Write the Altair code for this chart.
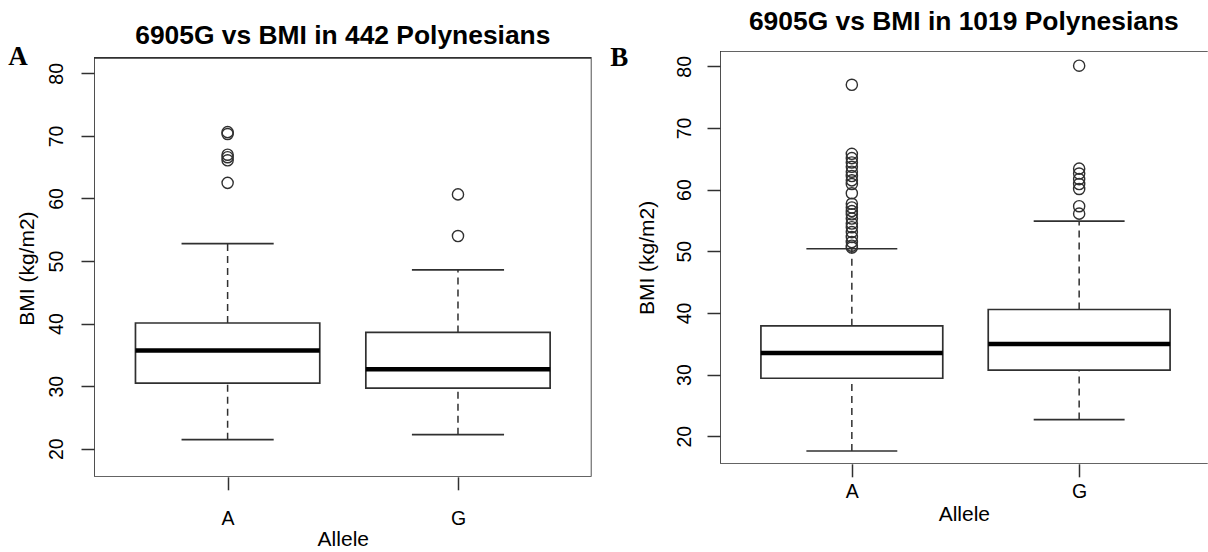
import altair as alt
import pandas as pd

# ---------------- data ----------------
alleles = ["A", "G"]
positions = [1, 2]
panel_labels = ["A", "B"]
titles = ["6905G vs BMI in 442 Polynesians", "6905G vs BMI in 1019 Polynesians"]
y_ticks = [20, 30, 40, 50, 60, 70, 80]
ylim = [18, 80]

# Panel A : 442 Polynesians
a_q1 = [30.5, 29.7]
a_med = [35.7, 32.7]
a_q3 = [40.1, 38.6]
a_lo = [21.45, 22.25]
a_hi = [52.8, 48.6]
a_out_A = [70.6, 70.3, 67.0, 66.6, 66.1, 62.5]
a_out_G = [60.65, 54.0]

# Panel B : 1019 Polynesians
b_q1 = [29.4, 30.7]
b_med = [33.5, 34.95]
b_q3 = [37.9, 40.55]
b_lo = [17.6, 22.7]
b_hi = [50.4, 54.9]
b_out_A = [77.0, 65.8, 65.1, 64.4, 63.7, 62.9, 62.2, 61.5, 60.9, 59.4,
           57.7, 57.1, 56.5, 56.0, 55.3, 54.5, 53.9, 53.1, 52.3, 51.5, 50.9, 50.6]
b_out_G = [80.1, 63.4, 62.6, 61.7, 60.9, 60.1, 57.3, 56.1]

FONT = "Liberation Sans"
LINE = "#303030"

# R style axis extension (4 %)
ypad = 0.04 * (ylim[1] - ylim[0])
y_frame = [ylim[0] - ypad, ylim[1] + ypad]
x_frame = [0.5 - 0.04 * 2, 2.5 + 0.04 * 2]


def panel(label, title, q1, med, q3, lo, hi, out_a, out_g, cfg):
    stats = pd.DataFrame({
        "allele": alleles, "pos": positions, "q1": q1, "med": med,
        "q3": q3, "lo": lo, "hi": hi,
    })
    outs = pd.DataFrame({
        "pos": [1] * len(out_a) + [2] * len(out_g),
        "bmi": out_a + out_g,
    })
    frame = pd.DataFrame({"x1": [x_frame[0]], "x2": [x_frame[1]],
                          "y1": [y_frame[0]], "y2": [y_frame[1]]})

    xs = alt.Scale(domain=cfg["xdom"], nice=False, zero=False)
    ys = alt.Scale(domain=cfg["ydom"], nice=False, zero=False)

    xaxis = alt.Axis(values=positions, labelExpr="datum.value == 1 ? 'A' : 'G'",
                     domain=False, grid=False, tickSize=13, tickColor=LINE, tickWidth=1.5,
                     labelFont=FONT, labelFontSize=19.5, labelColor="black",
                     labelBaseline="alphabetic", labelPadding=cfg["xlabpad"],
                     title="Allele", titleFont=FONT, titleFontSize=21, titleFontWeight="normal",
                     titleColor="black", titleBaseline="alphabetic", titleY=cfg["xtitley"])
    yaxis = alt.Axis(values=y_ticks, domain=False, grid=False, tickSize=13, tickColor=LINE,
                     tickWidth=1.5, labelFont=FONT, labelFontSize=19.5, labelColor="black",
                     labelAngle=270, labelAlign="center", labelBaseline="alphabetic",
                     labelPadding=cfg["ylabpad"],
                     title="BMI (kg/m2)", titleFont=FONT, titleFontSize=21,
                     titleFontWeight="normal", titleColor="black", titleAngle=270,
                     titleAlign="center", titleBaseline="alphabetic",
                     titleX=cfg["ytitlex"], titleY=cfg["ytitley"])

    def X(f):
        return alt.X(f, scale=xs, axis=xaxis)

    def Y(f):
        return alt.Y(f, scale=ys, axis=yaxis)

    base = alt.Chart(stats)
    calc = base.transform_calculate(
        xl="datum.pos - 0.4", xr="datum.pos + 0.4",
        sl="datum.pos - 0.2", sr="datum.pos + 0.2")

    box_frame = alt.Chart(frame).mark_rect(
        fillOpacity=0, stroke=LINE, strokeWidth=1.7, clip=True
    ).encode(x=X("x1:Q"), x2="x2:Q", y=Y("y1:Q"), y2="y2:Q")
    whisk_up = base.mark_rule(color=LINE, strokeWidth=1.5, strokeDash=[7, 5]).encode(
        x=X("pos:Q"), y=Y("q3:Q"), y2="hi:Q")
    whisk_dn = base.mark_rule(color=LINE, strokeWidth=1.5, strokeDash=[7, 5]).encode(
        x=X("pos:Q"), y=Y("lo:Q"), y2="q1:Q")
    staple_hi = calc.mark_rule(color=LINE, strokeWidth=1.7).encode(
        x=X("sl:Q"), x2="sr:Q", y=Y("hi:Q"))
    staple_lo = calc.mark_rule(color=LINE, strokeWidth=1.7).encode(
        x=X("sl:Q"), x2="sr:Q", y=Y("lo:Q"))
    box = calc.mark_rect(fill="white", stroke=LINE, strokeWidth=1.7).encode(
        x=X("xl:Q"), x2="xr:Q", y=Y("q1:Q"), y2="q3:Q")
    median = calc.mark_rule(color="black", strokeWidth=4.5).encode(
        x=X("xl:Q"), x2="xr:Q", y=Y("med:Q"))
    points = alt.Chart(outs).mark_point(
        shape="circle", filled=False, size=125, strokeWidth=1.4, color=LINE, opacity=1
    ).encode(x=X("pos:Q"), y=Y("bmi:Q"))
    tag = alt.Chart(pd.DataFrame({"lab": [label]})).mark_text(
        font="Liberation Serif", fontWeight="bold", fontSize=27, color="black",
        align="center", baseline="alphabetic"
    ).encode(text="lab:N", x=alt.value(cfg["tagx"]), y=alt.value(cfg["tagy"]))

    return alt.layer(box_frame, whisk_up, whisk_dn, staple_hi, staple_lo, box,
                     median, points, tag).properties(
        width=cfg["w"], height=cfg["h"],
        title=alt.TitleParams(text=title, font=FONT, fontSize=26.4, fontWeight="bold",
                              color="black", anchor="middle", baseline="alphabetic",
                              frame="group", offset=cfg["toff"]),
    )


cfg_a = dict(xdom=[0.42, 2.58], ydom=[y_frame[0], 83.57], w=497.6, h=425.8,
             xlabpad=34.7, xtitley=68.7, ylabpad=19, ytitlex=-60.4, ytitley=217.1,
             tagx=-76, tagy=13.5, toff=-27.9)
cfg_b = dict(xdom=[0.42, 2.5655], ydom=y_frame, w=487.7, h=412.8,
             xlabpad=20.4, xtitley=56.7, ylabpad=17, ytitlex=-66.3, ytitley=206.4,
             tagx=-100.8, tagy=14.5, toff=-12.5)

pa = panel(panel_labels[0], titles[0], a_q1, a_med, a_q3, a_lo, a_hi, a_out_A, a_out_G, cfg_a)
pb = panel(panel_labels[1], titles[1], b_q1, b_med, b_q3, b_lo, b_hi, b_out_A, b_out_G, cfg_b)

chart = alt.hconcat(pa, pb, spacing=18).properties(
    padding={"left": 8, "top": 8, "right": 0, "bottom": 0},
    background="white",
).configure_view(stroke=None)

chart.save("out.html", embed_options={"renderer": "svg", "actions": False})
